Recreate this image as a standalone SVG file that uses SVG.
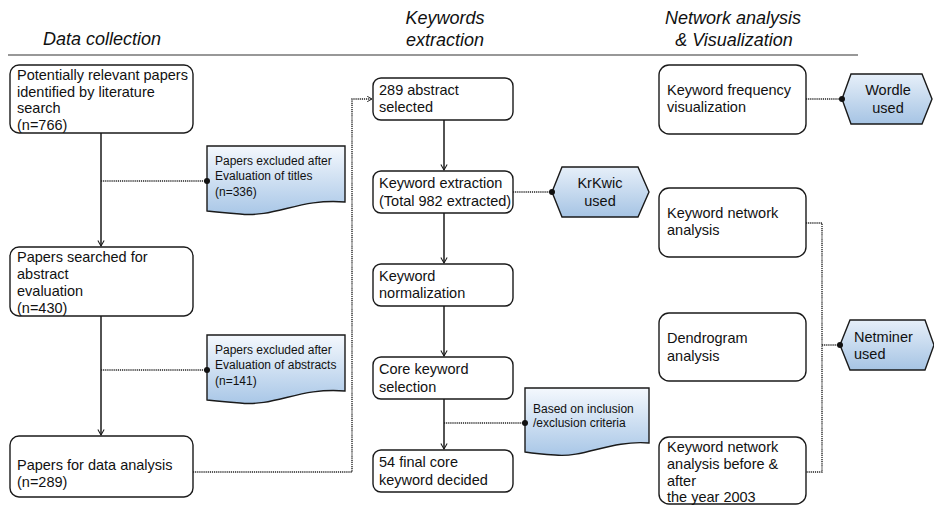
<svg xmlns="http://www.w3.org/2000/svg" width="934" height="506" viewBox="0 0 934 506">
<defs>
<style>
.box{fill:#fff;stroke:#1a1a1a;stroke-width:1.4}
.doc{fill:url(#gd);stroke:#1a1a1a;stroke-width:1.4}
.hex{fill:url(#gh);stroke:#1a1a1a;stroke-width:1.4}
.t{font-family:"Liberation Sans",Arial,sans-serif;font-size:14.5px;fill:#111}
.s{font-family:"Liberation Sans",Arial,sans-serif;font-size:12px;fill:#111}
.h{font-family:"Liberation Sans",Arial,sans-serif;font-size:18px;font-style:italic;fill:#111}
.solid{fill:none;stroke:#1a1a1a;stroke-width:1.5}
.dot{fill:none;stroke:#222;stroke-width:1.4;stroke-dasharray:1.2 0.9}
</style>
<linearGradient id="gd" x1="0" y1="0" x2="0" y2="1">
<stop offset="0" stop-color="#f4f8fd"/>
<stop offset="1" stop-color="#a9c7e7"/>
</linearGradient>
<linearGradient id="gh" x1="0" y1="0" x2="0" y2="1">
<stop offset="0" stop-color="#e6eff9"/>
<stop offset="1" stop-color="#a6c4e4"/>
</linearGradient>
<marker id="arr" viewBox="0 0 10 10" refX="9" refY="5" markerWidth="7" markerHeight="9" markerUnits="userSpaceOnUse" orient="auto">
<path d="M1,0.5 L9,5 L1,9.5" fill="none" stroke="#1a1a1a" stroke-width="1.5"/>
</marker>
<marker id="arrs" viewBox="0 0 10 10" refX="9" refY="5" markerWidth="6" markerHeight="7" markerUnits="userSpaceOnUse" orient="auto">
<path d="M1,0.5 L9,5 L1,9.5" fill="none" stroke="#1a1a1a" stroke-width="1.5"/>
</marker>
<marker id="ball" viewBox="0 0 10 10" refX="5" refY="5" markerWidth="6" markerHeight="6" markerUnits="userSpaceOnUse">
<circle cx="5" cy="5" r="5" fill="#111"/>
</marker>
</defs>

<g id="headers">
<line x1="8" y1="55" x2="858" y2="55" stroke="#333" stroke-width="1.2"/>
<text class="h" x="43" y="45">Data collection</text>
<text class="h" x="445" y="24" text-anchor="middle">Keywords</text>
<text class="h" x="445" y="46" text-anchor="middle">extraction</text>
<text class="h" x="733" y="24" text-anchor="middle">Network analysis</text>
<text class="h" x="734" y="46" text-anchor="middle">&amp; Visualization</text>
</g>

<g id="n1">
<rect class="box" x="10" y="65" width="183" height="68" rx="9"/>
<text class="t" x="17" y="80">Potentially relevant papers</text>
<text class="t" x="17" y="97">identified by literature</text>
<text class="t" x="17" y="113">search</text>
<text class="t" x="17" y="130">(n=766)</text>
</g>

<g id="n2">
<rect class="box" x="10" y="247" width="183" height="69" rx="9"/>
<text class="t" x="17" y="262">Papers searched for</text>
<text class="t" x="17" y="279">abstract</text>
<text class="t" x="17" y="296">evaluation</text>
<text class="t" x="17" y="313">(n=430)</text>
</g>

<g id="n3">
<rect class="box" x="10" y="436" width="183" height="61" rx="9"/>
<text class="t" x="17" y="470">Papers for data analysis</text>
<text class="t" x="17" y="487">(n=289)</text>
</g>

<g id="d1">
<path class="doc" d="M207,146 H345 V202 C300,198 275,218 240,214 C225,213 215,212 207,211 Z"/>
<text class="s" x="215" y="165">Papers excluded after</text>
<text class="s" x="215" y="180">Evaluation of titles</text>
<text class="s" x="215" y="196">(n=336)</text>
</g>

<g id="d2">
<path class="doc" d="M207,335 H345 V391 C300,387 275,407 240,403 C225,402 215,401 207,400 Z"/>
<text class="s" x="215" y="354">Papers excluded after</text>
<text class="s" x="215" y="369">Evaluation of abstracts</text>
<text class="s" x="215" y="385">(n=141)</text>
</g>

<g id="m1">
<rect class="box" x="373" y="78" width="140" height="42" rx="8"/>
<text class="t" x="379" y="95">289 abstract</text>
<text class="t" x="379" y="112">selected</text>
</g>

<g id="m2">
<rect class="box" x="373" y="171" width="140" height="42" rx="8"/>
<text class="t" x="379" y="188">Keyword extraction</text>
<text class="t" x="379" y="206">(Total 982 extracted)</text>
</g>

<g id="krkwic">
<polygon class="hex" points="552,192 562,167 638,167 649,192 638,217 562,217"/>
<text class="t" x="600" y="188" text-anchor="middle">KrKwic</text>
<text class="t" x="600" y="206" text-anchor="middle">used</text>
</g>

<g id="m3">
<rect class="box" x="373" y="264" width="140" height="42" rx="8"/>
<text class="t" x="379" y="281">Keyword</text>
<text class="t" x="379" y="298">normalization</text>
</g>

<g id="m4">
<rect class="box" x="373" y="357" width="140" height="42" rx="8"/>
<text class="t" x="379" y="374">Core keyword</text>
<text class="t" x="379" y="392">selection</text>
</g>

<g id="d3">
<path class="doc" d="M525,388 H649 V443 C610,440 585,458 555,455 C540,454 532,453 525,452 Z"/>
<text class="s" x="533" y="413">Based on inclusion</text>
<text class="s" x="533" y="427">/exclusion criteria</text>
</g>

<g id="m5">
<rect class="box" x="373" y="450" width="140" height="42" rx="8"/>
<text class="t" x="379" y="467">54 final core</text>
<text class="t" x="379" y="485">keyword decided</text>
</g>

<g id="r1">
<rect class="box" x="659" y="65" width="147" height="69" rx="10"/>
<text class="t" x="667" y="95">Keyword frequency</text>
<text class="t" x="667" y="112">visualization</text>
</g>

<g id="wordle">
<polygon class="hex" points="842,99 851,74 922,74 932,99 922,124 851,124"/>
<text class="t" x="888" y="95" text-anchor="middle">Wordle</text>
<text class="t" x="888" y="113" text-anchor="middle">used</text>
</g>

<g id="r2">
<rect class="box" x="659" y="188" width="147" height="69" rx="10"/>
<text class="t" x="667" y="218">Keyword network</text>
<text class="t" x="667" y="235">analysis</text>
</g>

<g id="r3">
<rect class="box" x="659" y="313" width="147" height="68" rx="10"/>
<text class="t" x="667" y="343">Dendrogram</text>
<text class="t" x="667" y="361">analysis</text>
</g>

<g id="r4">
<rect class="box" x="659" y="437" width="147" height="67" rx="10"/>
<text class="t" x="667" y="452">Keyword network</text>
<text class="t" x="667" y="469">analysis before &amp;</text>
<text class="t" x="667" y="486">after</text>
<text class="t" x="667" y="502">the year 2003</text>
</g>

<g id="netminer">
<polygon class="hex" points="840,345 850,320 925,320 934,345 925,370 850,370"/>
<text class="t" x="854" y="342">Netminer</text>
<text class="t" x="854" y="359">used</text>
</g>

<g id="connectors">
<line class="solid" x1="101" y1="133" x2="101" y2="246" marker-end="url(#arr)"/>
<line class="solid" x1="101" y1="316" x2="101" y2="435" marker-end="url(#arr)"/>
<line class="dot" x1="101" y1="181" x2="207" y2="181" marker-end="url(#ball)"/>
<line class="dot" x1="101" y1="370" x2="207" y2="370" marker-end="url(#ball)"/>
<polyline class="dot" points="193,472 352,472 352,99 372,99" marker-end="url(#arrs)"/>
<line class="solid" x1="444" y1="120" x2="444" y2="170" marker-end="url(#arr)"/>
<line class="solid" x1="444" y1="213" x2="444" y2="263" marker-end="url(#arr)"/>
<line class="solid" x1="444" y1="306" x2="444" y2="356" marker-end="url(#arr)"/>
<line class="solid" x1="444" y1="399" x2="444" y2="449" marker-end="url(#arr)"/>
<line class="dot" x1="444" y1="423" x2="525" y2="423" marker-end="url(#ball)"/>
<line class="dot" x1="513" y1="192" x2="552" y2="192" marker-end="url(#ball)"/>
<line class="dot" x1="806" y1="99" x2="842" y2="99" marker-end="url(#ball)"/>
<polyline class="dot" points="806,223 822,223 822,472 806,472"/>
<line class="dot" x1="822" y1="345" x2="840" y2="345" marker-end="url(#ball)"/>
</g>
</svg>
